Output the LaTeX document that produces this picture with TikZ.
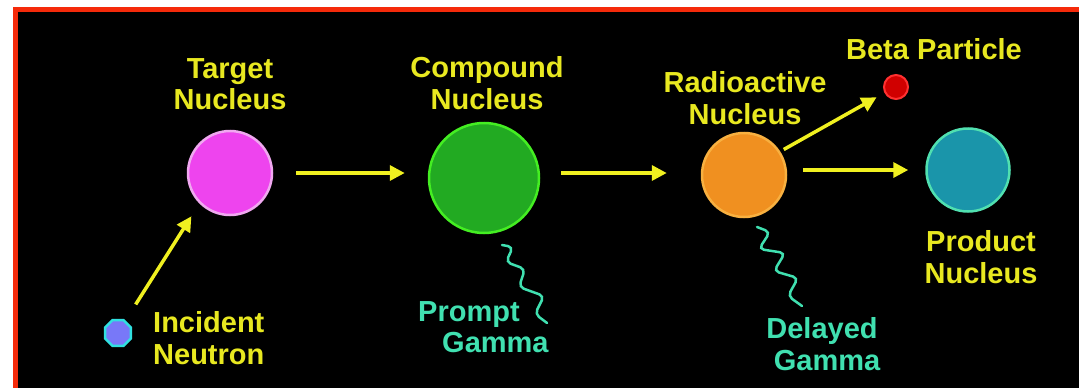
\documentclass[tikz,border=0pt]{standalone}
\usepackage{fontspec}
\setmainfont{Liberation Sans}
\usetikzlibrary{arrows.meta,shapes.geometric}

\definecolor{frame}{HTML}{F52A0A}
\definecolor{lbl}{HTML}{E8E820}
\definecolor{arrowyel}{HTML}{F0F020}
\definecolor{gam}{HTML}{40E0B0}
\definecolor{magfill}{HTML}{EE44EE}
\definecolor{magline}{HTML}{F0A8F0}
\definecolor{grnfill}{HTML}{22AA22}
\definecolor{grnline}{HTML}{44EE22}
\definecolor{orgfill}{HTML}{F09020}
\definecolor{orgline}{HTML}{F8B040}
\definecolor{tealfill}{HTML}{1A95AA}
\definecolor{tealline}{HTML}{50E0B0}
\definecolor{redfill}{HTML}{D00000}
\definecolor{redline}{HTML}{FF3030}
\definecolor{bluefill}{HTML}{7878F8}
\definecolor{blueline}{HTML}{30E0E0}

\tikzset{
  lab/.style={text=lbl, font=\bfseries\fontsize{29}{31.5}\selectfont, align=center, inner sep=0pt},
  glab/.style={lab, text=gam},
  nucleus/.style={circle, line width=2.5pt, inner sep=0pt, minimum size=#1},
  arr/.style={draw=arrowyel, line width=3.5pt, -{Triangle[length=15pt,width=15pt]}},
  wave/.style={draw=gam, line width=2.5pt, rounded corners=5pt, line cap=round},
}

\begin{document}
\begin{tikzpicture}[x=1pt, y=-1pt]
  % page and frame
  \fill[white] (0,0) rectangle (1079,388);
  \useasboundingbox (0,0) rectangle (1079,388);
  \fill[frame] (13,7) rectangle (1079,388);
  \fill[black] (18,12) rectangle (1079,388);

  % nuclei and particles
  \node[nucleus=84pt, fill=magfill, draw=magline] (target) at (230,173) {};
  \node[nucleus=110pt, fill=grnfill, draw=grnline] (compound) at (484,178) {};
  \node[nucleus=84pt, fill=orgfill, draw=orgline] (radio) at (744,175) {};
  \node[nucleus=83pt, fill=tealfill, draw=tealline] (product) at (968,170) {};
  \node[circle, inner sep=0pt, minimum size=24pt, line width=2pt, fill=redfill, draw=redline] (beta) at (896,87) {};
  \node[regular polygon, regular polygon sides=8, inner sep=0pt, minimum size=28pt, line width=2.5pt,
        fill=bluefill, draw=blueline] (neutron) at (118,333) {};

  % labels
  \node[lab] (targetlbl) at (230,84) {Target\\Nucleus};
  \node[lab] (compoundlbl) at (487,83) {Compound\\Nucleus};
  \node[lab] (radiolbl) at (745,98) {Radioactive\\Nucleus};
  \node[lab] (betalbl) at (934,49) {Beta Particle};
  \node[lab] (productlbl) at (981,257) {Product\\Nucleus};
  \node[lab, anchor=west, align=left] (neutronlbl) at (153,338) {Incident\\Neutron};
  \node[glab, anchor=west, align=left] (promptlbl) at (418,327) {Prompt\\\hspace*{24pt}Gamma};
  \node[glab] (delayedlbl) at (822,344) {Delayed\\\hspace*{10pt}Gamma};

  % reaction arrows
  \draw[arr, shorten <=19pt, shorten >=15pt] (neutron.59) -- (target.225);
  \draw[arr, shorten <=23pt, shorten >=23pt] (target.east) -- (target.east -| compound.west);
  \draw[arr, shorten <=21pt, shorten >=34pt] ([yshift=5pt]compound.east) -- ([yshift=5pt]compound.east -| radio.west);
  \draw[arr, shorten <=4pt, shorten >=9pt] (radio.33) -- (beta.207);
  \draw[arr, shorten <=16pt, shorten >=17pt] (product.west -| radio.east) -- (product.west);

  % gamma emissions
  \coordinate (pg) at (502,245);
  \draw[wave] (pg) -- ++(11,2) -- ++(-7,15) -- ++(19,7) -- ++(-6,18) -- ++(25,9) -- ++(-9,18) -- ++(12,9);
  \coordinate (dg) at (757,227);
  \draw[wave] (dg) -- ++(13,5) -- ++(-11,17) -- ++(26,4) -- ++(-11,18) -- ++(24,7) -- ++(-10,18) -- ++(14,10);
\end{tikzpicture}
\end{document}
